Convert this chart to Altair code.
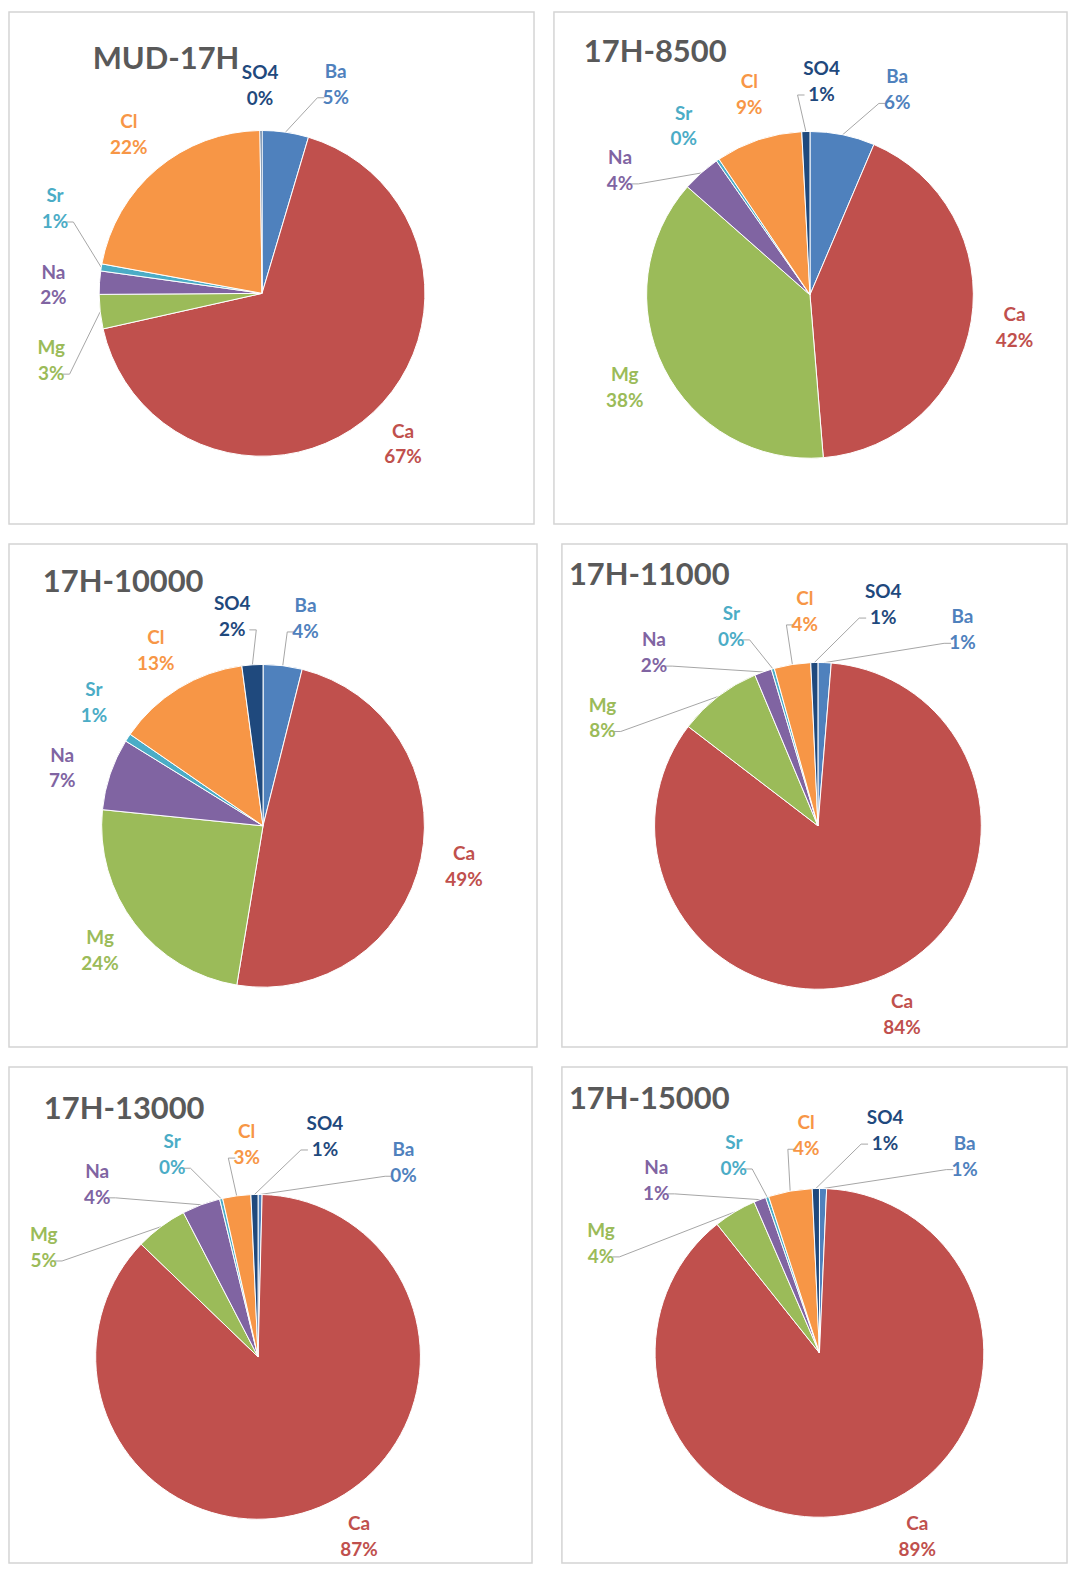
import math
import altair as alt
import pandas as pd

# ---------------- data ----------------
ions = ["Ba", "Ca", "Mg", "Na", "Sr", "Cl", "SO4"]
ion_colors = ["#4F81BD", "#C0504D", "#9BBB59", "#8064A2", "#4BACC6", "#F79646", "#1F497D"]

samples = ["MUD-17H", "17H-8500", "17H-10000", "17H-11000", "17H-13000", "17H-15000"]

# shares (%) in the order Ba, Ca, Mg, Na, Sr, Cl, SO4
mud_17h = [4.6, 66.9, 3.4, 2.3, 0.7, 21.9, 0.2]
h_8500 = [6.4, 42.3, 37.8, 3.8, 0.3, 8.6, 0.8]
h_10000 = [3.9, 48.7, 24.0, 7.2, 0.8, 13.3, 2.1]
h_11000 = [1.3, 84.1, 8.3, 1.7, 0.3, 3.6, 0.7]
h_13000 = [0.4, 86.8, 5.2, 3.8, 0.3, 2.8, 0.7]
h_15000 = [0.7, 88.6, 4.2, 1.2, 0.3, 4.3, 0.7]
series = [mud_17h, h_8500, h_10000, h_11000, h_13000, h_15000]

# ---------------- layout (pixels) ----------------
layout = [
    dict(w=527, h=514, cx=254, cy=282.5, r=163.5, tx=84, ty=57),
    dict(w=515, h=514, cx=257, cy=284, r=164, tx=30, ty=50),
    dict(w=530, h=505, cx=255, cy=283, r=162, tx=34, ty=48),
    dict(w=507, h=505, cx=257, cy=283, r=164, tx=7, ty=41),
    dict(w=525, h=498, cx=250, cy=291, r=163, tx=35, ty=52),
    dict(w=507, h=498, cx=258.5, cy=287, r=165, tx=7, ty=42),
]

FONT = "Lato"
LBL_SIZE = 19
LINE_H = 26
TITLE_SIZE = 31
GAP = 20.0


def angdiff(a, b):
    return ((a - b) + 180) % 360 - 180


def boxes_overlap(a, b):
    return not (a[1] < b[0] or b[1] < a[0] or a[3] < b[2] or b[3] < a[2])


def title_width(s):
    w = 0.0
    for ch in s:
        if ch.isdigit():
            w += 0.58
        elif ch == "-":
            w += 0.36
        elif ch == "M":
            w += 0.86
        else:
            w += 0.74
    return w * TITLE_SIZE


def label_layout(vals, L, title):
    total = sum(vals)
    cum = 0.0
    mids = []
    for v in vals:
        a0 = cum / total * 360.0
        cum += v
        a1 = cum / total * 360.0
        mids.append((a0 + a1) / 2.0)
    pcts = [v / total * 100 for v in vals]
    pct_txt = [f"{round(p)}%" for p in pcts]
    hws = [0.3 * LBL_SIZE * max(len(a), len(b)) + 2 for a, b in zip(ions, pct_txt)]
    hh = LINE_H / 2 + 9
    base = L["r"] + 44
    tw = title_width(title)
    tbox = (L["tx"] - L["cx"] - 5, L["tx"] + tw - L["cx"] + 5,
            L["cy"] - L["ty"] - 4, L["cy"] - (L["ty"] - 24) + 4)
    tcx = (tbox[0] + tbox[1]) / 2
    ang = list(mids)
    n = len(ang)

    def radius(i):
        if pcts[i] >= 30:
            return base
        return base + min(36.0, 1.3 * abs(angdiff(ang[i], mids[i])))

    def pos(i):
        a = math.radians(ang[i])
        r = radius(i)
        return r * math.sin(a), r * math.cos(a)

    for _ in range(1500):
        moved = False
        # slices keep their circular order: Ba, Ca, Mg, Na, Sr, Cl, SO4
        for i in range(n):
            j = (i + 1) % n
            d = ang[j] - ang[i] + (360.0 if j == 0 else 0.0)
            if d < GAP:
                p = (GAP - d) / 4
                ang[i] -= p
                ang[j] += p
                moved = True
        for i in range(n):
            x, y = pos(i)
            b = (x - hws[i], x + hws[i], y - hh, y + hh)
            if boxes_overlap(b, tbox):
                ang[i] += 1.0 if x > tcx else -1.0
                moved = True
                continue
            a = ang[i] % 360
            if L["cy"] - y + hh > L["h"] - 4:
                ang[i] += -1.0 if a < 180 else 1.0
                moved = True
            elif L["cy"] - y - hh < 8:
                ang[i] += 1.0 if a < 180 else -1.0
                moved = True
            elif L["cx"] + x + hws[i] > L["w"] - 6:
                ang[i] += -1.0 if a < 90 else 1.0
                moved = True
            elif L["cx"] + x - hws[i] < 6:
                ang[i] += 1.0 if a > 270 else -1.0
                moved = True
        if not moved:
            break

    lab_rows, line_rows = [], []
    for i in range(n):
        x, y = pos(i)
        lab_rows.append(dict(ion=ions[i], lx=x, ly=y, pct=pct_txt[i]))
        if abs(angdiff(ang[i], mids[i])) > 3 and pcts[i] < 30:
            m = math.radians(mids[i])
            x0 = L["r"] * math.sin(m)
            y0 = L["r"] * math.cos(m)
            side = -1 if x > x0 else 1
            ax = x + side * (hws[i] - 2)
            ay = y - LINE_H / 2
            bx = ax + side * 7
            for k, (px, py) in enumerate([(x0, y0), (bx, ay), (ax, ay)]):
                line_rows.append(dict(ion=ions[i], pt=k, lx=px, ly=py))
    return pd.DataFrame(lab_rows), pd.DataFrame(line_rows, columns=["ion", "pt", "lx", "ly"])


def panel(i):
    L = layout[i]
    vals = series[i]
    df = pd.DataFrame({"ion": ions, "value": vals, "idx": list(range(len(ions)))})
    labs, lines = label_layout(vals, L, samples[i])
    xs = alt.Scale(domain=[-L["cx"], L["w"] - L["cx"]], nice=False, zero=False)
    ys = alt.Scale(domain=[-(L["h"] - L["cy"]), L["cy"]], nice=False, zero=False)
    color = alt.Color("ion:N", scale=alt.Scale(domain=ions, range=ion_colors), legend=None)

    arcs = alt.Chart(df).transform_calculate(px="0", py="0").mark_arc(
        outerRadius=L["r"], stroke="white", strokeWidth=1
    ).encode(
        theta=alt.Theta("value:Q", stack=True),
        order=alt.Order("idx:Q"),
        color=color,
        x=alt.X("px:Q", scale=xs, axis=None),
        y=alt.Y("py:Q", scale=ys, axis=None),
    )
    leaders = alt.Chart(lines).mark_line(color="#a6a6a6", strokeWidth=1).encode(
        x=alt.X("lx:Q", scale=xs, axis=None),
        y=alt.Y("ly:Q", scale=ys, axis=None),
        detail="ion:N",
        order="pt:Q",
    )
    txt_base = alt.Chart(labs).encode(
        x=alt.X("lx:Q", scale=xs, axis=None),
        y=alt.Y("ly:Q", scale=ys, axis=None),
        color=color,
    )
    name_txt = txt_base.mark_text(
        font=FONT, fontSize=LBL_SIZE, fontWeight="bold", align="center",
        baseline="middle", dy=-LINE_H / 2,
    ).encode(text="ion:N")
    pct_txt = txt_base.mark_text(
        font=FONT, fontSize=LBL_SIZE, fontWeight="bold", align="center",
        baseline="middle", dy=LINE_H / 2,
    ).encode(text="pct:N")
    title = alt.Chart(pd.DataFrame({"t": [samples[i]]})).mark_text(
        font=FONT, fontSize=TITLE_SIZE, fontWeight="bold", color="#595959",
        align="left", baseline="alphabetic",
    ).encode(x=alt.value(L["tx"]), y=alt.value(L["ty"]), text="t:N")
    return alt.layer(leaders, arcs, name_txt, pct_txt, title).properties(width=L["w"], height=L["h"])


row1 = alt.hconcat(panel(0), panel(1), spacing=18)
row2 = alt.hconcat(panel(2), panel(3), spacing=23)
row3 = alt.hconcat(panel(4), panel(5), spacing=28)

chart = alt.vconcat(row1, row2, row3, spacing=18).properties(
    padding=0, background="white"
).configure_view(stroke="#d4d4d4", strokeWidth=1.5)

chart.save("out.html", embed_options={"renderer": "svg", "actions": False})
